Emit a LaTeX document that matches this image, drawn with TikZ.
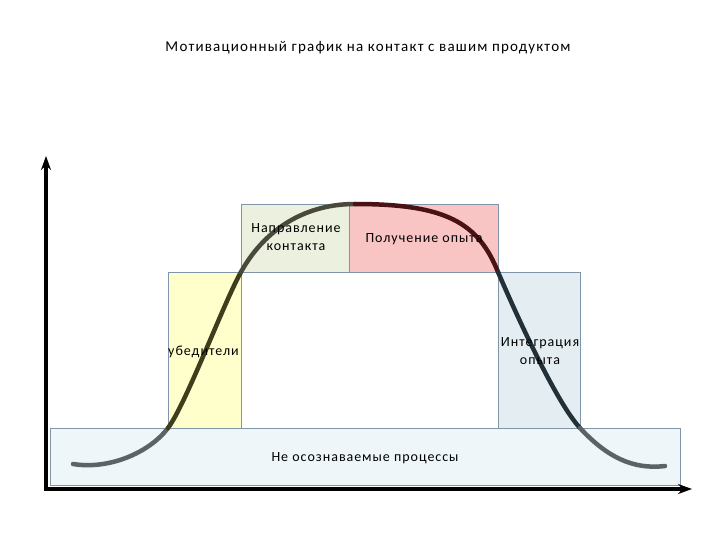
\documentclass[tikz,border=0pt]{standalone}
\usepackage{fontspec}
\setmainfont{Carlito}
\newfontfamily\lblfont[LetterSpace=7]{Carlito}
\newfontfamily\ttlfont[LetterSpace=8]{Carlito}
\usetikzlibrary{arrows.meta}
\definecolor{bordc}{HTML}{8096A8}
\definecolor{yellowf}{HTML}{FFFFCC}
\definecolor{greenf}{HTML}{EBF1DE}
\definecolor{redf}{HTML}{F9C4C4}
\definecolor{bluef}{HTML}{E4EEF2}
\definecolor{bottomf}{HTML}{EEF6FA}
\definecolor{cgray}{HTML}{5C6364}
\definecolor{colive}{HTML}{3E3E1C}
\definecolor{cgolive}{HTML}{4A4A3C}
\definecolor{cmaroon}{HTML}{4A1212}
\definecolor{cslate}{HTML}{223038}
\tikzset{
  zone/.style={draw=bordc, line width=0.7pt},
  lbl/.style={font=\lblfont\fontsize{14}{18}\selectfont, align=center, text=black},
  curve/.style={line width=4.5pt, line cap=round},
  axis/.style={line width=3.5pt, -{Stealth[length=14pt,width=10pt]}}
}
\begin{document}
\begin{tikzpicture}[x=1pt,y=-1pt]
\useasboundingbox (0,0) rectangle (720,540);
% boxes
\node[zone, fill=bottomf, minimum width=630pt, minimum height=57pt, inner sep=0pt, anchor=north west] (bottom) at (50,428) {};
\node[zone, fill=yellowf, minimum width=73pt, minimum height=156pt, inner sep=0pt, anchor=north west] (yel) at (168,272) {};
\node[zone, fill=white, minimum width=257pt, minimum height=156pt, inner sep=0pt, anchor=north west] (mid) at (241,272) {};
\node[zone, fill=bluef, minimum width=82pt, minimum height=156pt, inner sep=0pt, anchor=north west] (integ) at (498,272) {};
\node[zone, fill=greenf, minimum width=108pt, minimum height=68pt, inner sep=0pt, anchor=north west] (napr) at (241,204) {};
\node[zone, fill=redf, minimum width=149pt, minimum height=68pt, inner sep=0pt, anchor=north west] (polu) at (349,204) {};
% axes
\coordinate (origin) at (46,489);
\coordinate (ytip) at (46,156);
\coordinate (xtip) at (692,489);
\draw[axis] (46,491) -- (ytip);
\draw[axis] (44,489) -- (xtip);
% curve
\coordinate (c0) at (73,464);
\coordinate (c1) at (168,428);
\coordinate (c2) at (241,272);
\coordinate (c3) at (355,204);
\coordinate (c4) at (498,272);
\coordinate (c5) at (580,428);
\coordinate (c6) at (665,466);
\draw[curve, cgray] (c0) .. controls (110,470) and (150,452) .. (c1);
\draw[curve, colive] (c1) .. controls (186,404) and (224,302) .. (c2);
\draw[curve, cgolive] (c2) .. controls (262,234) and (300,204) .. (c3);
\draw[curve, cmaroon] (c3) .. controls (445,204) and (478,222) .. (c4);
\draw[curve, cslate] (c4) .. controls (516,314) and (556,402) .. (c5);
\draw[curve, cgray] (c5) .. controls (606,456) and (632,470) .. (c6);
% labels
\node[font=\ttlfont\fontsize{15}{18}\selectfont, text=black] (title) at (368,48) {Мотивационный график на контакт с вашим продуктом};
\node[lbl] (tnapr) at (296,237) {Направление\\контакта};
\node[lbl] (tpolu) at (424,239) {Получение опыта};
\node[lbl, anchor=west, inner sep=0pt] (tub) at (168,352) {убедители};
\node[lbl] (tint) at (540,351) {Интеграция\\опыта};
\node[lbl] (tbot) at (365,458) {Не осознаваемые процессы};
\end{tikzpicture}
\end{document}
